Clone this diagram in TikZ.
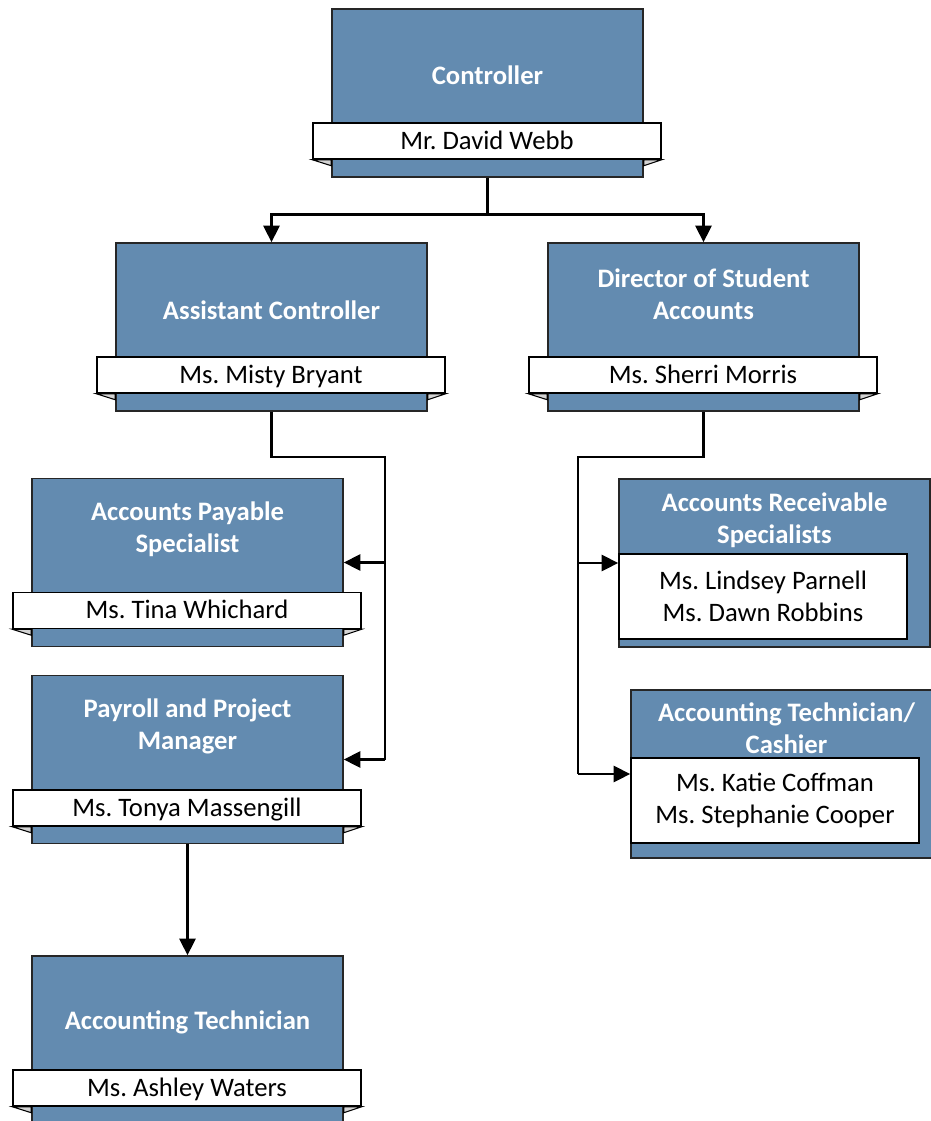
\documentclass[tikz,border=0pt]{standalone}
\usepackage{fontspec}
\setmainfont{Carlito}
\frenchspacing
\usetikzlibrary{arrows.meta}
\definecolor{boxblue}{HTML}{638BB0}
\definecolor{foldgray}{HTML}{D4D4D4}
\tikzset{
  bluebox/.style={draw=black!85, fill=boxblue, line width=1.1pt, minimum width=233.25pt, minimum height=126pt, inner sep=0pt},
  namebox/.style={draw=black, fill=white, line width=1.1pt, minimum width=261pt, minimum height=27pt, inner sep=0pt, text height=16pt, text depth=4pt, font=\fontsize{20}{24}\selectfont},
  namebox2/.style={draw=black, fill=white, line width=1.1pt, minimum width=216pt, minimum height=63.75pt, inner sep=0pt, align=center, font=\fontsize{20}{24}\selectfont},
  titletext/.style={text=white, align=center, inner sep=0pt, font=\fontsize{20}{24}\selectfont\bfseries},
  fold/.style={fill=foldgray, draw=black, line width=0.8pt, line join=miter},
  conn/.style={draw=black, line width=2.2pt},
  arr/.style={conn, -{Triangle[length=12.5pt, width=12pt]}}
}
\newcommand{\folds}[2]{%
  \filldraw[fold] (#2.south west) -- (#1.west |- #2.south) -- ([yshift=-4.5pt]#1.west |- #2.south) -- cycle;
  \filldraw[fold] (#2.south east) -- (#1.east |- #2.south) -- ([yshift=-4.5pt]#1.east |- #2.south) -- cycle;}
\begin{document}
\begin{tikzpicture}[x=0.75pt, y=-0.75pt]
\useasboundingbox (0,0) rectangle (931,1121);
\clip (0,0) rectangle (931,1121);

% Controller
\node[bluebox] (ctrl) at (487.5,93) {};
\node[titletext] (ctrlT) at (487.5,75) {Controller};
\node[namebox] (ctrlL) at (487,141) {Mr. David Webb};
\folds{ctrl}{ctrlL}

% Assistant Controller
\node[bluebox] (asst) at (271.5,327) {};
\node[titletext] (asstT) at (271.5,310) {Assistant Controller};
\node[namebox] (asstL) at (271,375) {Ms. Misty Bryant};
\folds{asst}{asstL}

% Director of Student Accounts
\node[bluebox] (dir) at (703.5,327) {};
\node[titletext] (dirT) at (703.5,294) {Director of Student\\Accounts};
\node[namebox] (dirL) at (703,375) {Ms. Sherri Morris};
\folds{dir}{dirL}

% Accounts Payable Specialist
\node[bluebox] (ap) at (187.5,562.5) {};
\node[titletext] (apT) at (187.5,529) {Accounts Payable\\Specialist};
\node[namebox] (apL) at (187,610.5) {Ms. Tina Whichard};
\folds{ap}{apL}

% Payroll and Project Manager
\node[bluebox] (pay) at (187.5,759.5) {};
\node[titletext] (payT) at (187.5,726) {Payroll and Project\\Manager};
\node[namebox] (payL) at (187,808) {Ms. Tonya Massengill};
\folds{pay}{payL}

% Accounting Technician
\node[bluebox] (tech) at (187.5,1040) {};
\node[titletext] (techT) at (187.5,1022) {Accounting Technician};
\node[namebox] (techL) at (187,1088) {Ms. Ashley Waters};
\folds{tech}{techL}

% Accounts Receivable Specialists
\node[bluebox] (ar) at (774.5,563) {};
\node[titletext] (arT) at (774.5,520) {Accounts Receivable\\Specialists};
\node[namebox2] (arL) at (763,596.5) {Ms. Lindsey Parnell\\Ms. Dawn Robbins};

% Accounting Technician / Cashier
\node[bluebox] (cash) at (786.5,774) {};
\node[titletext] (cashT) at (786.5,728) {Accounting Technician/\\Cashier};
\node[namebox2] (cashL) at (775,800.5) {Ms. Katie Coffman\\Ms. Stephanie Cooper};

% Connectors
\draw[conn] (ctrl.south) -- ++(0,37) coordinate (j1);
\draw[arr] (j1) -| (asst.north);
\draw[arr] (j1) -| (dir.north);

\coordinate (j2) at (385,457);
\draw[conn] (asst.south) |- (j2) -- (j2 |- pay.east);
\draw[arr] (j2 |- ap.east) -- (ap.east);
\draw[arr] (j2 |- pay.east) -- (pay.east);

\coordinate (j3) at (578,457);
\draw[conn] (dir.south) |- (j3) -- (j3 |- cash.west);
\draw[arr] (j3 |- ar.west) -- (ar.west);
\draw[arr] (j3 |- cash.west) -- (cash.west);

\draw[arr] (pay.south) -- (tech.north);
\end{tikzpicture}
\end{document}
